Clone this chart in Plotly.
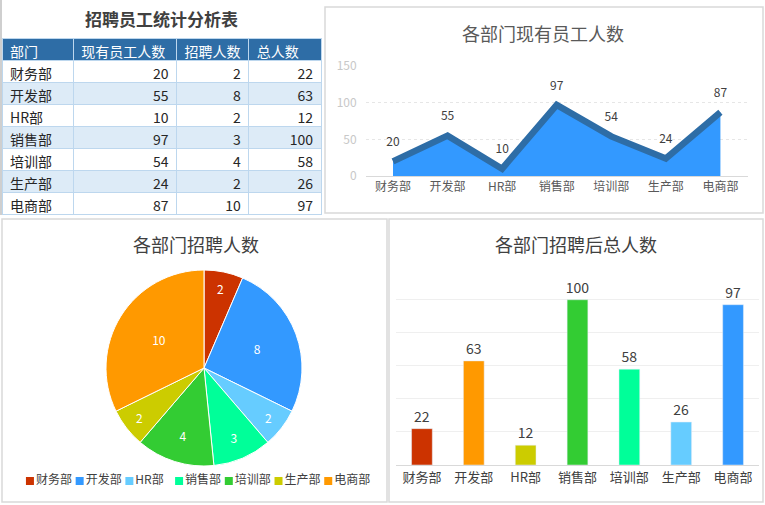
import plotly.graph_objects as go

departments = ["财务部", "开发部", "HR部", "销售部", "培训部", "生产部", "电商部"]
current_staff = [20, 55, 10, 97, 54, 24, 87]
recruits = [2, 8, 2, 3, 4, 2, 10]
totals = [22, 63, 12, 100, 58, 26, 97]
table_headers = ["部门", "现有员工人数", "招聘人数", "总人数"]
pie_colors = ["#CC3300", "#3399FF", "#66CCFF", "#00FF99", "#33CC33", "#CCCC00", "#FF9900"]
bar_colors = ["#CC3300", "#FF9900", "#CCCC00", "#33CC33", "#00FF99", "#66CCFF", "#3399FF"]

W, H = 765, 505
FONT = "Noto Sans CJK SC"


def px(x):
    return x / W


def py(y):
    return 1 - y / H


fig = go.Figure()

# Table
row_fills = ["#FFFFFF" if i % 2 == 0 else "#DDEBF7" for i in range(len(departments))]
fig.add_trace(go.Table(
    domain=dict(x=[px(2), px(321)], y=[py(220), py(38)]),
    columnwidth=[71, 103, 72, 72],
    header=dict(
        values=table_headers,
        fill_color="#2E6DA6",
        font=dict(family=FONT, size=14, color="white"),
        align="left",
        height=22,
        line=dict(color="#BDD7EE", width=1),
    ),
    cells=dict(
        values=[departments, current_staff, recruits, totals],
        fill_color=[row_fills] * 4,
        font=dict(family=FONT, size=14, color="#262626"),
        align=["left", "right", "right", "right"],
        height=22,
        line=dict(color="#BDD7EE", width=1),
    ),
))

# Area chart
fig.add_trace(go.Scatter(
    x=departments, y=current_staff,
    mode="lines+markers+text",
    text=[str(v) for v in current_staff],
    textposition="top center",
    textfont=dict(family=FONT, size=12, color="#404040"),
    line=dict(color="#2E6DA6", width=6.5),
    marker=dict(size=18, color="rgba(0,0,0,0)"),
    fill="tozeroy", fillcolor="#3399FF",
    showlegend=False, cliponaxis=False,
    xaxis="x", yaxis="y",
))

# Pie chart
fig.add_trace(go.Pie(
    labels=departments, values=recruits,
    marker=dict(colors=pie_colors, line=dict(color="white", width=1)),
    sort=False, direction="clockwise", rotation=0,
    textinfo="value", textposition="inside",
    insidetextfont=dict(family=FONT, size=12, color="white"),
    domain=dict(x=[px(106), px(302)], y=[py(467), py(269)]),
    hoverinfo="label+value",
    showlegend=False,
))

# Pie legend (squares + labels on a hidden axis)
fig.add_trace(go.Scatter(
    x=departments, y=[0] * len(departments),
    mode="markers+text",
    marker=dict(symbol="square", size=8, color=pie_colors),
    text=departments,
    textposition="middle right",
    textfont=dict(family=FONT, size=12, color="#404040"),
    showlegend=False, cliponaxis=False, hoverinfo="skip",
    xaxis="x3", yaxis="y3",
))

# Bar chart
fig.add_trace(go.Bar(
    x=departments, y=totals,
    marker=dict(color=bar_colors),
    width=0.4,
    text=[str(v) for v in totals],
    textposition="outside",
    constraintext="none",
    textfont=dict(family=FONT, size=14, color="#404040"),
    cliponaxis=False,
    showlegend=False,
    xaxis="x2", yaxis="y2",
))

border = "#D9D9D9"
shapes = [
    dict(type="rect", xref="paper", yref="paper", x0=px(325), x1=px(763), y0=py(213), y1=py(7),
         line=dict(color=border, width=1.5)),
    dict(type="rect", xref="paper", yref="paper", x0=px(2), x1=px(387), y0=py(502), y1=py(219),
         line=dict(color=border, width=1.5)),
    dict(type="rect", xref="paper", yref="paper", x0=px(389), x1=px(763), y0=py(502), y1=py(219),
         line=dict(color=border, width=1.5)),
    dict(type="line", xref="paper", yref="paper", x0=px(1), x1=px(1), y0=py(215), y1=py(0),
         line=dict(color="#BFBFBF", width=1.5)),
]

annotations = [
    dict(text="<b>招聘员工统计分析表</b>", x=px(161), y=py(18), xref="paper", yref="paper",
         showarrow=False, font=dict(family=FONT, size=17, color="#404040"), xanchor="center", yanchor="middle"),
    dict(text="各部门现有员工人数", x=px(543), y=py(33), xref="paper", yref="paper",
         showarrow=False, font=dict(family=FONT, size=18, color="#595959"), xanchor="center", yanchor="middle"),
    dict(text="各部门招聘人数", x=px(196), y=py(244), xref="paper", yref="paper",
         showarrow=False, font=dict(family=FONT, size=18, color="#404040"), xanchor="center", yanchor="middle"),
    dict(text="各部门招聘后总人数", x=px(576), y=py(244), xref="paper", yref="paper",
         showarrow=False, font=dict(family=FONT, size=18, color="#404040"), xanchor="center", yanchor="middle"),
]

fig.update_layout(
    width=W, height=H,
    margin=dict(l=0, r=0, t=0, b=0, autoexpand=False),
    paper_bgcolor="white", plot_bgcolor="white",
    font=dict(family=FONT, color="#595959"),
    shapes=shapes,
    annotations=annotations,
    showlegend=False,
    xaxis=dict(domain=[px(365.7), px(747.7)], type="category", range=[-0.5, 6.5],
               showgrid=False, showline=True, linecolor="#D9D9D9", ticks="", automargin=False,
               tickfont=dict(family=FONT, size=12, color="#595959"), fixedrange=True),
    yaxis=dict(domain=[py(176), py(66)], range=[0, 150], dtick=50, automargin=False,
               showgrid=True, gridcolor="#E6E6E6", griddash="dot", zeroline=False,
               tickfont=dict(family=FONT, size=12, color="#C8C8C8"), ticks="", ticklabelstandoff=8),
    xaxis2=dict(domain=[px(396), px(759)], type="category", range=[-0.5, 6.5], anchor="y2",
                showgrid=False, showline=True, linecolor="#D9D9D9", ticks="", automargin=False,
                tickfont=dict(family=FONT, size=13, color="#404040")),
    yaxis2=dict(domain=[py(465), py(266.7)], range=[0, 120], dtick=20, anchor="x2", automargin=False,
                showgrid=True, gridcolor="#EFEFEF", zeroline=False, showticklabels=False),
    xaxis3=dict(domain=[px(20), px(368)], type="category", range=[-0.2, 6.8], anchor="y3",
                visible=False, automargin=False),
    yaxis3=dict(domain=[py(489), py(473)], range=[-1, 1], anchor="x3", visible=False, automargin=False),
)

fig.write_html(
    "out.html",
    config={"displayModeBar": False},
    post_script="document.body.style.margin='0';document.body.style.overflow='hidden';",
)
